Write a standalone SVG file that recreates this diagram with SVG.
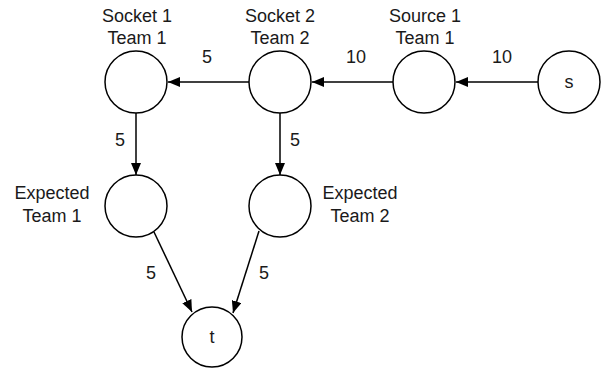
<svg xmlns="http://www.w3.org/2000/svg" width="605" height="369" viewBox="0 0 605 369">
<style>
.n{fill:#fff;stroke:#000;stroke-width:1.5}
.t{font-family:"Liberation Sans",Arial,sans-serif;font-size:18px;fill:#1a1a1a;text-anchor:middle}
.e{stroke:#000;stroke-width:1.5;fill:none;marker-end:url(#ah)}
</style>
<defs>
<marker id="ah" viewBox="0 0 12 10" refX="12" refY="5" markerWidth="12" markerHeight="10" markerUnits="userSpaceOnUse" orient="auto">
<path d="M0,0 L12,5 L0,10 z" fill="#000"/>
</marker>
</defs>
<rect width="605" height="369" fill="#fff"/>
<g id="edges">
<line class="e" x1="538" y1="82" x2="456" y2="82"/>
<line class="e" x1="393" y1="82" x2="312" y2="82"/>
<line class="e" x1="249" y1="82" x2="168" y2="82"/>
<line class="e" x1="136" y1="113" x2="136" y2="175"/>
<line class="e" x1="280" y1="113" x2="280" y2="175"/>
<line class="e" x1="154" y1="232" x2="192" y2="312"/>
<line class="e" x1="259" y1="231" x2="233" y2="313"/>
<text class="t" x="502" y="63">10</text>
<text class="t" x="356" y="63">10</text>
<text class="t" x="207" y="63">5</text>
<text class="t" x="120" y="146">5</text>
<text class="t" x="295" y="146">5</text>
<text class="t" x="151" y="279">5</text>
<text class="t" x="264" y="279">5</text>
</g>
<g id="socket1"><circle class="n" cx="136" cy="82" r="31"/><text class="t" x="137" y="22">Socket 1</text><text class="t" x="137" y="44">Team 1</text></g>
<g id="socket2"><circle class="n" cx="280" cy="82" r="31"/><text class="t" x="280" y="22">Socket 2</text><text class="t" x="280" y="44">Team 2</text></g>
<g id="source1"><circle class="n" cx="424" cy="82" r="31"/><text class="t" x="425" y="22">Source 1</text><text class="t" x="425" y="44">Team 1</text></g>
<g id="s"><circle class="n" cx="569" cy="82" r="31"/><text class="t" x="569" y="88">s</text></g>
<g id="expected1"><circle class="n" cx="136" cy="206" r="31"/><text class="t" x="52" y="199">Expected</text><text class="t" x="52" y="222">Team 1</text></g>
<g id="expected2"><circle class="n" cx="280" cy="206" r="31"/><text class="t" x="360" y="199">Expected</text><text class="t" x="360" y="222">Team 2</text></g>
<g id="t"><circle class="n" cx="212" cy="337" r="30"/><text class="t" x="212" y="343">t</text></g>
</svg>
